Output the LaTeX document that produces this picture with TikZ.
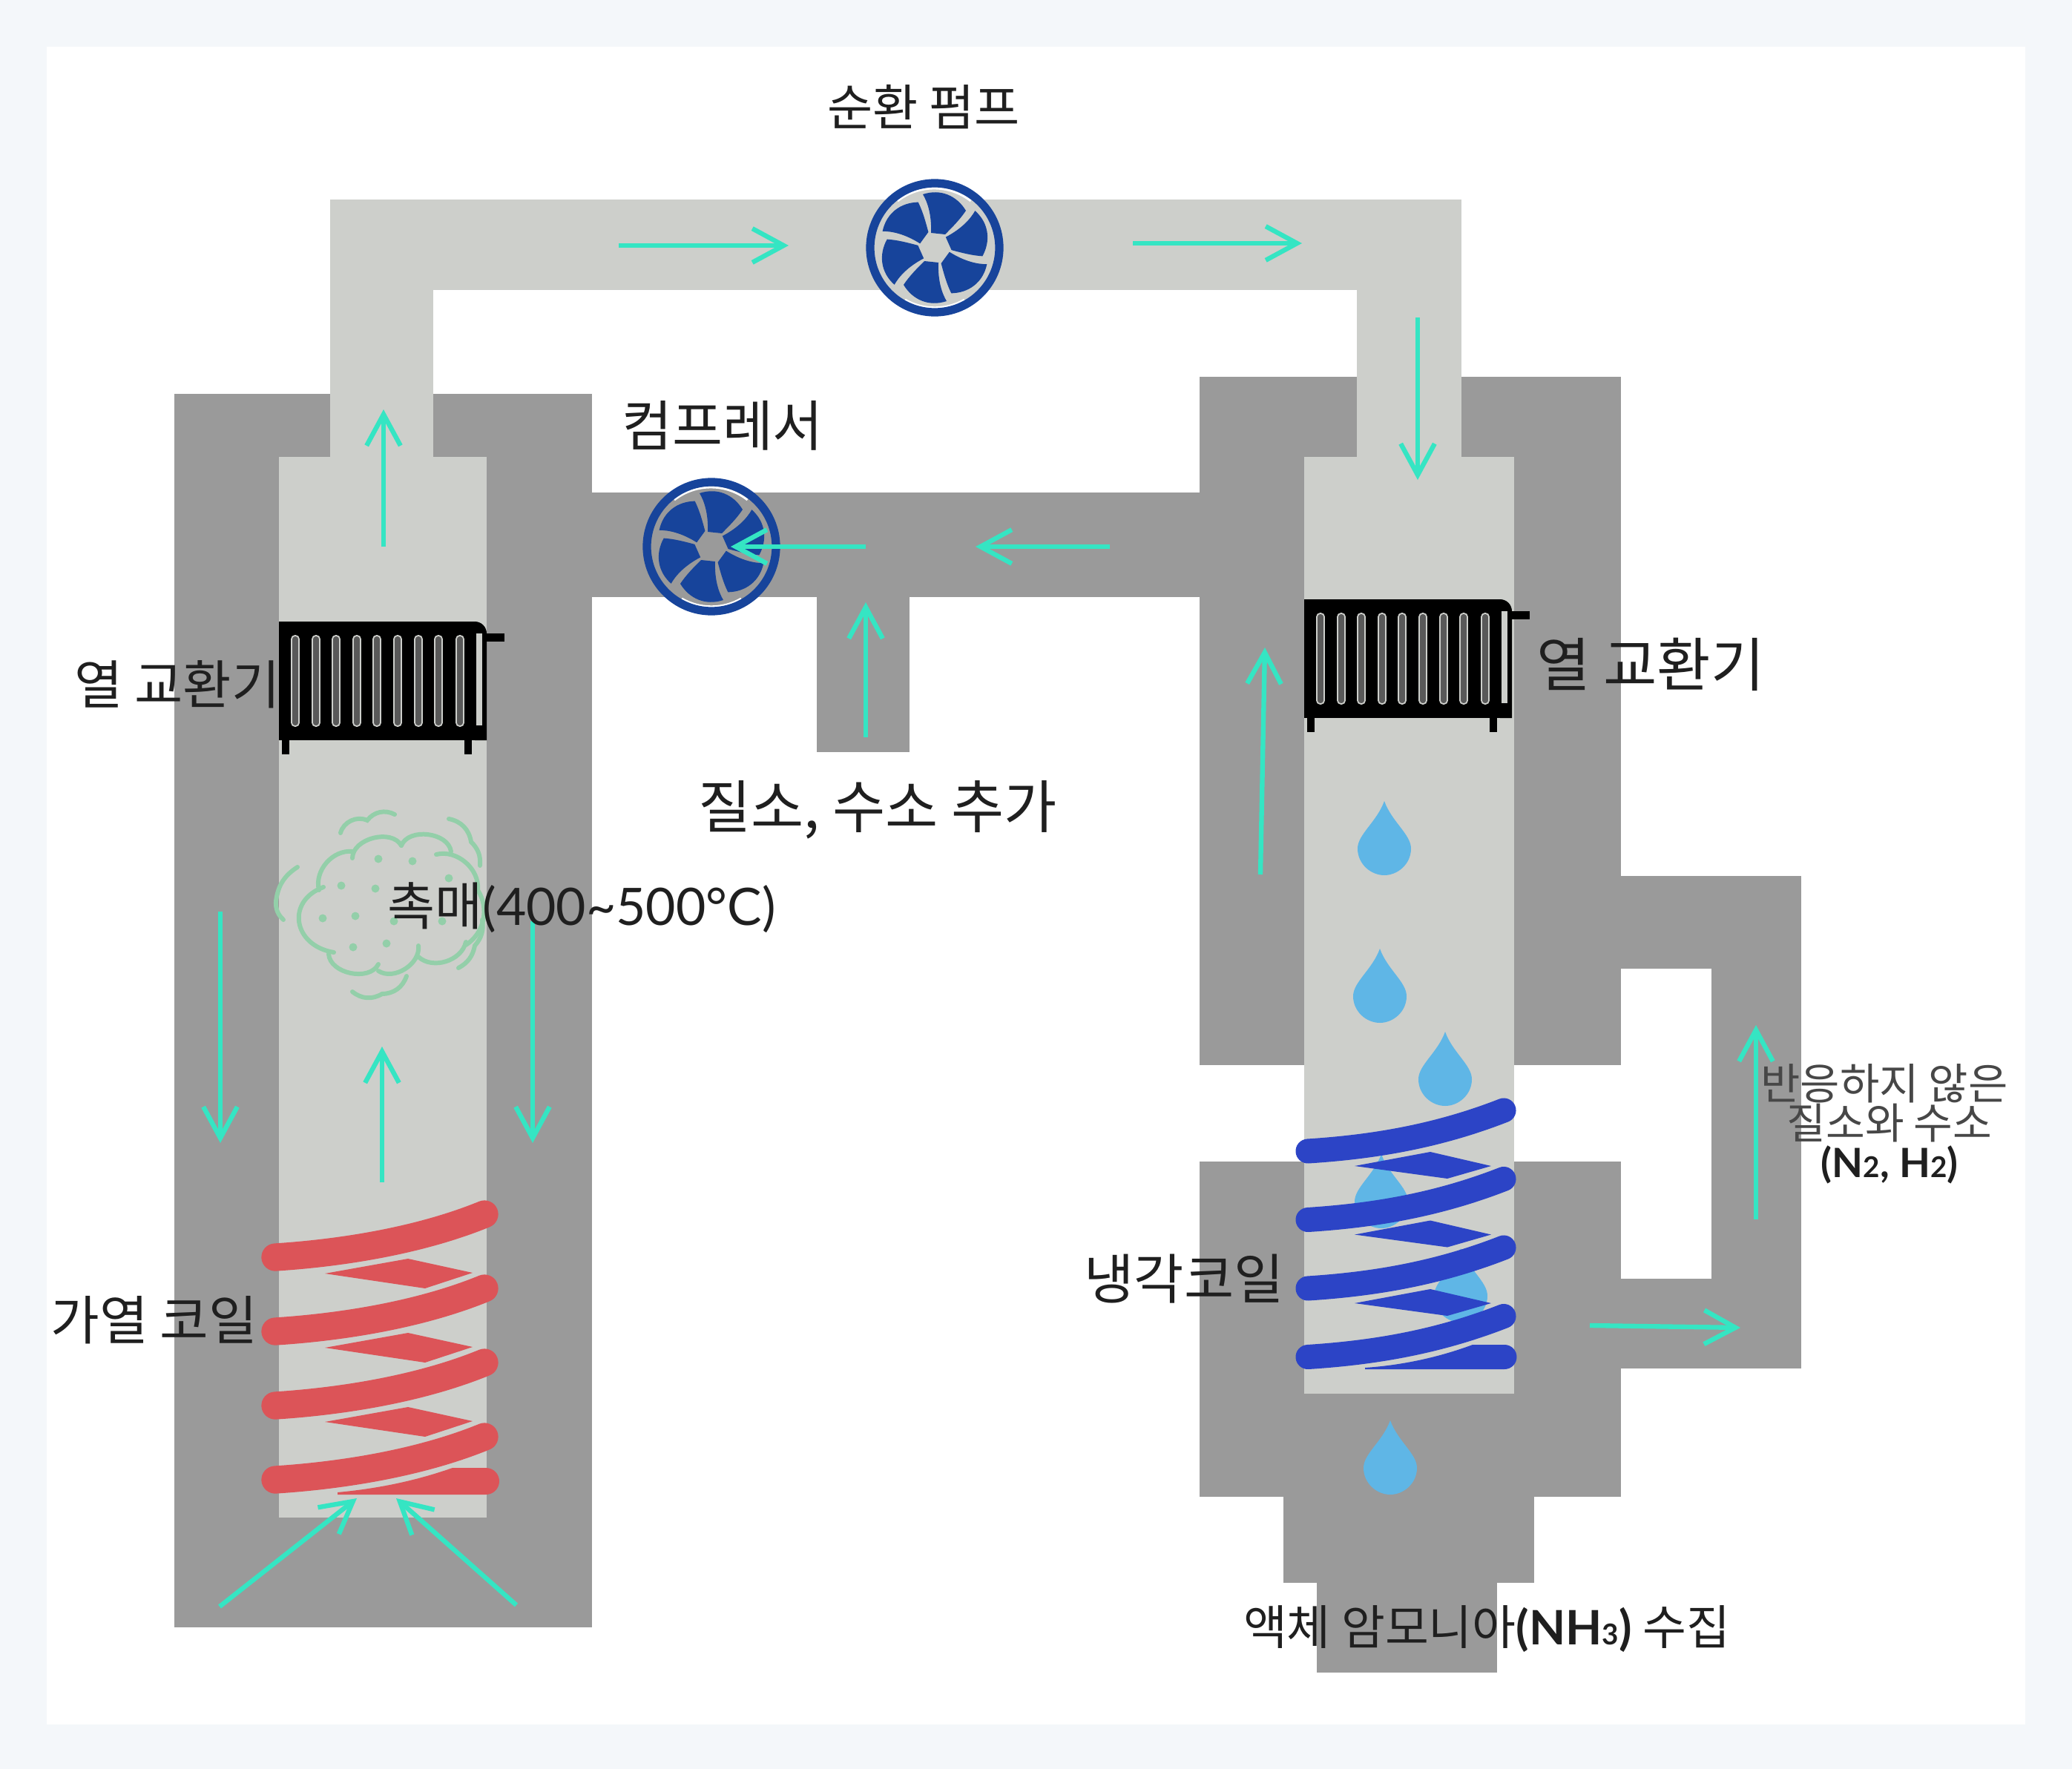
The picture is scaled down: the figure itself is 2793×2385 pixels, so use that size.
\documentclass[tikz,border=0pt]{standalone}
\usepackage{fontspec}
\setmainfont{Noto Sans CJK KR}
\newfontfamily\latinfont{Lato}
\usepackage{xcolor}
\usepackage{tikz}
\usetikzlibrary{
    calc,
    arrows.meta
}
\definecolor{pagebg}{HTML}{F4F7FA}
\definecolor{shellgray}{HTML}{9A9A9A}
\definecolor{gaslight}{HTML}{CDCFCB}
\definecolor{flowgreen}{HTML}{35E5C3}
\definecolor{fanblue}{HTML}{17449B}
\definecolor{hotred}{HTML}{DC5458}
\definecolor{coldblue}{HTML}{2C44C6}
\definecolor{dropblue}{HTML}{5FB6E6}
\definecolor{cloudgreen}{HTML}{93CFA9}
\newcommand{\lowdigit}[1]{{\fontsize{11}{12}\selectfont #1}}
\tikzset{
    fan/.pic={
        \fill[#1] (0,0) circle[radius=88];
        \draw[white, line width=0.8pt] (-50,-63) arc[start angle=232, end angle=308, radius=80];
        \draw[white, line width=0.8pt] (-40,70) arc[start angle=120, end angle=60, radius=80];
        \draw[fanblue, line width=3.2pt] (0,0) circle[radius=87];
        \foreach \a in {0,60,...,300} {
            \fill[fanblue, rotate=\a] (-5,-20) .. controls (-4,-45) and (-10,-62) .. (-16,-72)
                .. controls (8,-80) and (30,-70) .. (42,-50)
                .. controls (34,-38) and (24,-28) .. (14,-18) -- cycle;
        }
        \fill[#1] (0,0) circle[radius=18];
    },
    radiator/.pic={
        \fill[black] (0,0) rectangle (264,160);
        \fill[black] (264,0) arc[start angle=-90, end angle=0, radius=16] -- (280,160) -- (264,160) -- cycle;
        \fill[gaslight] (266,16) rectangle (274,140);
        \foreach \x in {22,50,77,105,132,160,188,215,244} {
            \draw[gaslight, fill=black!65, line width=0.5pt, rounded corners=0.45mm] (\x-5,19) rectangle (\x+5,141);
        }
        \fill[black] (4,160) rectangle (14,179);
        \fill[black] (250,160) rectangle (260,179);
        \fill[black] (277,16) rectangle (304,27);
    },
    water drop/.pic={
        \fill[dropblue] (0,0) .. controls (-10,28) and (-36,45) .. (-36,64)
            .. controls (-36,85) and (-18,100) .. (0,100)
            .. controls (18,100) and (36,85) .. (36,64)
            .. controls (36,45) and (10,28) .. (0,0) -- cycle;
    },
    flow arrow/.style={flowgreen, line width=1.8pt, -{Straight Barb[length=12pt, width=13pt]}},
    coil line/.style={line width=10.6pt, line cap=round},
    cloud line/.style={cloudgreen, line width=1.7pt, line cap=round},
    diagram label/.style={inner sep=0pt, text=black!88, font=\fontsize{#1}{22}\selectfont, align=center},
    diagram label/.default=20
}
\begin{document}
\begin{tikzpicture}[x=0.01cm, y=-0.01cm]
    \useasboundingbox (0,0) rectangle (2793,2385);
    \fill[pagebg] (0,0) rectangle (2793,2385);
    \fill[white] (63,63) rectangle (2730,2325);

    % gray shells
    \fill[shellgray] (235,531) rectangle (798,2194);
    \fill[shellgray] (798,664) rectangle (1617,805);
    \fill[shellgray] (1101,805) rectangle (1226,1014);
    \fill[shellgray] (1617,508) rectangle (2185,1436);
    \fill[shellgray] (2185,1181) rectangle (2428,1306);
    \fill[shellgray] (2307,1306) rectangle (2428,1845);
    \fill[shellgray] (2185,1724) rectangle (2428,1845);
    \fill[shellgray] (1617,1566) rectangle (2185,2018);
    \fill[shellgray] (1730,2018) rectangle (2068,2134);
    \fill[shellgray] (1775,2134) rectangle (2018,2255);

    % light gas channels
    \fill[gaslight] (376,616) rectangle (656,2046);
    \fill[gaslight] (445,269) rectangle (584,616);
    \fill[gaslight] (445,269) rectangle (1970,391);
    \fill[gaslight] (1829,269) rectangle (1970,616);
    \fill[gaslight] (1758,616) rectangle (2041,1879);

    % fans
    \pic at (1260,334) {fan=gaslight};
    \pic at (959,737) {fan=shellgray};

    % heat exchangers
    \pic at (376,838) {radiator};
    \pic at (1758,808) {radiator};

    % catalyst cloud
    \draw[cloud line] (475,1157) to[bend left=75] (541,1140);
    \draw[cloud line] (541,1140) to[bend left=75] (608,1148);
    \draw[cloud line] (588,1152) to[bend left=55] (644,1200) to[bend left=45] (628,1274);
    \draw[cloud line] (628,1270) to[bend left=60] (564,1290);
    \draw[cloud line] (564,1275) to[bend left=65] (510,1309);
    \draw[cloud line] (510,1300) to[bend left=75] (443,1286);
    \draw[cloud line] (450,1284) .. controls (395,1275) and (385,1215) .. (436,1196);
    \draw[cloud line] (430,1200) to[bend left=55] (475,1148);
    \draw[cloud line] (459,1123) to[bend left=50] (495,1106) to[bend left=40] (532,1098);
    \draw[cloud line] (605,1104) to[bend left=35] (635,1135) to[bend left=25] (647,1167);
    \draw[cloud line] (401,1169) to[bend right=25] (372,1215) to[bend right=25] (382,1240);
    \draw[cloud line] (650,1240) to[bend left=25] (640,1275) to[bend left=25] (618,1305);
    \draw[cloud line] (548,1316) to[bend left=35] (515,1340) to[bend left=35] (475,1337);
    \foreach \p in {(510,1158),(556,1161),(605,1184),(460,1194),(506,1198),(435,1238),(479,1235),(531,1242),(596,1242),(476,1277),(521,1272)} {
        \fill[cloudgreen] \p circle[radius=5.5];
    }

    % heating coil
    \foreach \i in {0,1,2,3} {
        \begin{scope}[shift={(0,100*\i)}]
            \draw[coil line, hotred] (371,1695) .. controls (450,1690) and (560,1675) .. (653,1637);
        \end{scope}
    }
    \foreach \i in {0,1,2} {
        \begin{scope}[shift={(0,100*\i)}]
            \fill[hotred] (438,1717) -- (550,1697) -- (637,1716) -- (573,1737) -- cycle;
        \end{scope}
    }
    \fill[hotred] (455,2015) -- (655,2015) arc[start angle=90, end angle=-90, radius=18] -- (610,1979) .. controls (570,1993) and (520,2006) .. (455,2012) -- cycle;

    % water drops
    \pic at (1866,1080) {water drop};
    \pic at (1860,1279) {water drop};
    \pic at (1948,1391) {water drop};
    \pic at (1862,1556) {water drop};
    \pic at (1969,1683) {water drop};
    \pic at (1874,1915) {water drop};

    % cooling coil
    \foreach \i in {0,1,2,3} {
        \begin{scope}[shift={(0,92.5*\i)}]
            \draw[coil line, coldblue, line width=9.4pt] (1763,1552) .. controls (1840,1547) and (1930,1535) .. (2027,1497);
        \end{scope}
    }
    \foreach \i in {0,1,2} {
        \begin{scope}[shift={(0,92.5*\i)}]
            \fill[coldblue] (1826,1572) -- (1928,1553) -- (2010,1572) -- (1951,1589) -- cycle;
        \end{scope}
    }
    \fill[coldblue] (1840,1846) -- (2028,1846) arc[start angle=90, end angle=-90, radius=16.5] -- (1985,1813) .. controls (1950,1826) and (1900,1840) .. (1840,1844) -- cycle;

    % flow arrows
    \foreach \sx/\sy/\ex/\ey in {834/331/1063/331, 1527/328/1755/328, 1911/428/1911/647, 1496/737/1315/737,
        1167/737/985/737, 1167/994/1167/812, 517/737/517/552, 297/1229/297/1541, 718/1242/718/1541,
        515/1594/515/1411, 296/2166/481/2020, 696/2164/534/2020, 1699/1179/1705/873,
        2143/1787/2346/1790, 2367/1644/2367/1382} {
        \coordinate (from) at (\sx,\sy);
        \coordinate (to) at (\ex,\ey);
        \draw[flow arrow] (from) -- (to);
    }

    % labels
    \node[diagram label=18.9] (pumplabel) at (1245,144) {순환 펌프};
    \node[diagram label=21] (complabel) at (974,574) {컴프레서};
    \node[diagram label=20.2] (hexleft) at (239,923) {열 교환기};
    \node[diagram label=22.4] (hexright) at (2225,896) {열 교환기};
    \node[diagram label=22] (gaslabel) at (1183,1092) {질소, 수소 추가};
    \node[diagram label=19.8] (catlabel) at (784,1224) {촉매{\latinfont(400\textasciitilde500°C)}};
    \node[diagram label=20.3] (heatlabel) at (208,1780) {가열 코일};
    \node[diagram label=20.8] (coollabel) at (1596,1724) {냉각코일};
    \node[diagram label=16.5, text=black!72] (recycleA) at (2540,1461) {반응하지 않은};
    \node[diagram label=16.3, text=black!72] (recycleB) at (2547,1514) {질소와 수소};
    \node[diagram label=16, font=\fontsize{15.5}{18}\selectfont\latinfont\bfseries] (recycleC) at (2547,1570) {(N\lowdigit{2}, H\lowdigit{2})};
    \node[diagram label=18.2] (ammonialabel) at (2004,2196) {액체 암모니아{\latinfont\bfseries(NH\lowdigit{3})} 수집};
\end{tikzpicture}
\end{document}
